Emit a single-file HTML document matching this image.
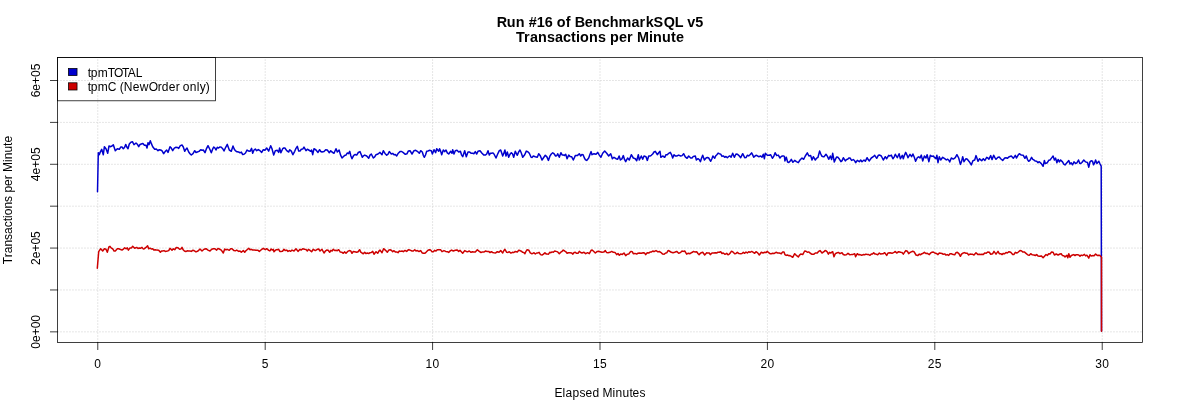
<!DOCTYPE html><html><head><meta charset="utf-8"><style>html,body{margin:0;padding:0;background:#fff;}svg{display:block;} .wc{will-change:transform;}text{font-family:"Liberation Sans",sans-serif;}</style></head><body>
<div class="wc">
<svg width="1200" height="400" viewBox="0 0 1200 400">
<rect width="1200" height="400" fill="#fff"/>
<path d="M97.78 342.4V57.6M265.19 342.4V57.6M432.59 342.4V57.6M600.00 342.4V57.6M767.41 342.4V57.6M934.81 342.4V57.6M1102.22 342.4V57.6M57.6 331.85H1142.4M57.6 289.96H1142.4M57.6 248.07H1142.4M57.6 206.18H1142.4M57.6 164.29H1142.4M57.6 122.40H1142.4M57.6 80.51H1142.4" fill="none" stroke="#d3d3d3" stroke-width="0.75" stroke-dasharray="0.75 2.25" stroke-linecap="round"/>
<path d="M97.5 191.7 L98.3 152.7 L99.3 154.7 L100.0 152.7 L101.7 149.3 L103.3 154.7 L104.4 146.7 L106.0 148.7 L107.7 153.3 L109.0 146.0 L110.7 146.7 L112.0 146.0 L113.3 144.7 L115.3 150.7 L117.3 148.7 L119.3 149.3 L120.7 147.1 L122.0 147.0 L123.3 148.7 L124.5 147.5 L125.7 144.4 L126.8 147.0 L128.0 148.7 L129.3 144.0 L130.9 142.2 L132.4 141.7 L134.0 144.7 L136.0 143.0 L137.3 144.2 L138.7 146.7 L140.0 144.5 L141.3 144.0 L142.9 143.4 L144.4 145.2 L146.0 145.3 L147.0 148.0 L148.0 142.7 L149.0 144.7 L150.3 140.7 L151.5 143.9 L152.7 146.7 L154.7 149.3 L156.3 149.0 L158.0 150.7 L159.3 149.7 L160.7 150.0 L162.1 150.9 L163.6 153.7 L165.1 151.6 L166.7 150.0 L168.0 152.4 L170.0 146.7 L171.3 148.1 L172.7 150.7 L174.3 148.1 L176.0 147.3 L177.3 147.4 L178.7 148.4 L180.3 145.6 L182.0 145.0 L183.3 147.0 L184.7 151.3 L185.8 149.4 L187.0 148.0 L188.7 152.0 L190.0 153.7 L191.3 155.0 L193.0 153.6 L194.7 150.7 L196.0 152.5 L197.3 152.0 L199.0 151.4 L200.7 149.7 L202.0 150.3 L203.3 150.0 L205.0 152.7 L206.5 148.6 L208.0 145.7 L209.7 149.0 L211.3 152.7 L212.5 149.4 L213.7 147.0 L214.8 147.9 L216.0 150.0 L217.3 147.3 L218.6 148.0 L220.0 146.9 L221.3 147.3 L222.7 148.7 L224.0 151.0 L225.7 147.3 L227.3 144.4 L229.3 150.0 L231.3 151.3 L233.0 146.0 L234.2 149.0 L235.3 150.7 L237.0 151.8 L238.7 152.0 L240.0 152.8 L241.3 152.1 L242.7 154.5 L244.0 154.3 L245.5 153.0 L247.0 150.0 L248.5 151.1 L250.0 151.3 L251.6 148.4 L252.7 153.3 L254.0 150.0 L255.3 149.1 L256.7 150.7 L258.3 149.6 L260.0 150.7 L261.7 152.4 L263.3 149.7 L264.9 150.3 L266.7 148.0 L268.7 151.1 L270.7 145.7 L272.0 148.7 L273.7 155.1 L275.3 150.7 L277.3 150.3 L278.7 152.4 L279.6 148.0 L280.9 152.7 L282.7 148.7 L283.8 148.0 L284.9 148.0 L286.7 150.7 L288.7 152.0 L289.7 149.7 L291.3 151.1 L292.9 154.7 L294.7 151.3 L296.0 148.3 L297.3 146.3 L298.7 151.1 L300.0 151.1 L301.3 149.3 L302.7 149.1 L304.0 147.1 L306.0 150.7 L307.3 149.2 L308.7 150.0 L310.7 151.3 L311.6 150.0 L312.7 154.7 L314.0 148.7 L316.0 150.0 L318.0 152.4 L319.6 149.7 L320.8 151.5 L322.0 152.0 L324.0 151.6 L325.7 149.8 L327.3 150.0 L329.3 152.7 L330.7 150.7 L332.0 152.0 L334.0 153.3 L336.0 148.7 L337.3 152.0 L339.1 150.0 L340.5 154.9 L342.0 158.0 L343.3 156.7 L344.7 155.4 L346.0 155.1 L347.2 153.0 L348.5 153.7 L349.7 151.3 L350.9 156.0 L352.0 158.7 L353.7 155.3 L355.2 154.5 L356.7 155.1 L358.3 152.5 L360.0 151.6 L361.1 154.2 L362.3 157.3 L363.5 155.8 L364.7 155.1 L366.7 156.0 L368.7 158.3 L370.0 155.1 L371.3 154.0 L373.3 158.0 L374.7 156.9 L376.0 154.7 L378.0 154.0 L380.0 152.4 L382.0 154.7 L383.3 150.7 L385.0 153.4 L386.7 155.3 L388.0 154.2 L389.3 151.6 L391.3 154.0 L392.7 153.4 L394.0 154.7 L395.3 154.5 L396.7 156.0 L398.3 153.2 L400.0 151.6 L401.7 151.5 L403.3 152.7 L405.3 154.3 L406.9 153.8 L408.4 150.9 L410.0 150.7 L412.0 154.0 L414.0 150.7 L415.7 150.3 L417.3 151.3 L419.3 153.3 L420.7 150.7 L422.3 152.0 L423.3 155.3 L424.4 157.3 L425.5 155.0 L426.7 151.3 L428.0 151.0 L429.3 150.3 L431.3 150.7 L432.4 154.0 L434.0 149.7 L435.6 152.7 L436.7 148.7 L438.7 151.3 L439.6 148.7 L440.7 151.4 L441.7 154.7 L443.3 150.0 L444.7 151.6 L446.0 150.0 L447.3 152.9 L448.7 154.0 L450.7 151.3 L452.0 153.3 L452.7 149.7 L454.0 154.0 L455.3 150.7 L457.0 150.2 L458.7 152.0 L460.4 151.3 L461.5 154.8 L462.7 156.7 L464.7 150.7 L466.3 156.7 L468.0 152.0 L469.7 152.1 L471.3 153.3 L472.7 153.2 L474.0 153.7 L475.3 151.6 L476.7 154.0 L478.0 151.3 L480.0 150.7 L482.0 153.3 L483.7 154.9 L485.3 155.1 L486.7 154.0 L488.0 150.7 L489.3 155.1 L490.5 153.2 L491.6 153.3 L492.8 152.9 L494.0 154.0 L496.0 158.0 L498.0 153.3 L499.3 150.6 L500.7 150.0 L502.7 156.0 L503.8 153.4 L504.9 150.0 L506.0 156.0 L507.3 152.0 L508.7 157.3 L510.0 154.3 L511.3 152.7 L512.5 153.8 L513.7 157.3 L515.3 151.3 L517.3 155.3 L518.7 151.9 L520.0 150.0 L521.3 153.0 L522.7 157.3 L524.7 154.7 L526.3 151.1 L527.8 151.7 L529.3 153.3 L531.1 157.3 L532.2 157.4 L533.3 156.0 L535.3 156.7 L537.3 157.3 L538.7 153.7 L540.3 155.7 L542.0 160.0 L543.7 157.5 L545.3 155.3 L546.9 156.9 L548.4 160.4 L549.9 156.2 L551.3 154.0 L552.7 152.8 L554.0 153.7 L555.6 156.0 L556.7 155.8 L557.7 153.7 L559.3 157.3 L560.9 152.7 L562.1 154.9 L563.3 155.1 L564.5 155.4 L565.7 154.3 L567.1 158.7 L568.7 155.1 L570.0 156.4 L571.6 156.7 L573.3 160.0 L575.3 155.6 L577.3 155.6 L579.3 153.7 L580.7 156.0 L581.9 154.6 L583.1 154.7 L584.4 158.0 L585.5 159.8 L586.7 160.4 L588.7 158.0 L589.9 154.5 L591.1 151.6 L592.0 154.7 L594.0 153.7 L596.0 154.3 L597.7 152.4 L599.3 155.1 L600.9 157.3 L602.7 153.3 L604.7 151.1 L606.7 153.3 L608.7 156.0 L610.7 153.7 L612.4 158.7 L614.0 157.3 L616.0 158.7 L617.7 159.3 L619.1 156.0 L620.4 160.0 L621.9 158.9 L623.3 155.6 L624.5 159.4 L625.7 161.7 L627.6 158.0 L629.3 160.0 L631.3 154.7 L633.3 158.0 L635.3 158.7 L636.7 160.7 L638.3 154.7 L639.3 160.0 L641.3 156.0 L642.7 159.3 L644.0 156.0 L646.0 156.7 L647.3 160.4 L648.7 156.0 L650.0 156.1 L651.3 155.3 L652.7 154.0 L654.0 152.0 L655.3 151.3 L657.3 154.7 L658.7 152.7 L660.0 151.3 L660.9 157.3 L662.7 156.0 L664.7 157.3 L666.0 154.7 L667.3 154.7 L668.7 153.3 L670.3 152.4 L671.5 154.6 L672.7 158.0 L674.0 154.7 L675.3 155.9 L676.7 156.0 L678.7 155.1 L680.7 156.0 L682.1 155.6 L683.6 153.7 L685.3 156.8 L687.1 158.3 L688.7 156.0 L690.7 158.0 L692.0 158.0 L693.3 156.4 L695.3 156.0 L696.4 160.0 L698.0 158.7 L699.2 159.5 L700.4 161.7 L701.5 158.3 L702.7 155.3 L704.4 160.0 L706.3 157.7 L707.5 157.4 L708.7 158.0 L710.7 161.3 L711.8 159.0 L712.9 156.0 L714.7 158.3 L715.8 155.7 L716.9 154.7 L718.1 153.1 L719.3 153.7 L720.7 154.1 L722.0 156.4 L723.3 155.9 L724.7 157.3 L726.0 156.5 L727.3 157.7 L729.3 156.0 L730.0 156.0 L731.1 157.3 L732.7 153.3 L734.3 157.3 L736.0 154.0 L737.3 154.2 L738.7 155.3 L740.7 157.7 L742.7 153.7 L744.7 157.7 L746.0 157.6 L747.3 155.3 L748.7 155.9 L750.0 154.7 L751.6 152.9 L752.7 154.9 L753.7 157.3 L754.9 156.1 L756.0 155.3 L757.3 155.8 L758.7 156.7 L760.7 156.0 L762.0 157.3 L763.3 154.3 L764.4 158.7 L765.3 153.3 L767.3 155.3 L769.3 155.3 L770.7 154.7 L772.4 158.3 L773.7 156.4 L775.1 152.7 L776.7 155.6 L778.3 155.1 L780.0 158.0 L781.1 156.6 L782.3 156.0 L783.3 155.9 L784.4 156.4 L784.9 160.9 L786.3 157.3 L787.6 162.0 L788.8 162.5 L790.0 161.3 L791.3 159.3 L792.9 162.3 L794.7 160.4 L796.4 161.7 L798.3 162.7 L800.0 160.0 L802.0 158.0 L803.6 159.3 L805.3 156.0 L807.3 152.9 L808.9 156.0 L810.7 155.6 L812.0 160.0 L813.3 156.7 L815.3 160.0 L816.7 158.1 L818.0 157.3 L819.6 151.1 L820.7 153.8 L821.7 156.0 L822.9 156.7 L824.0 156.7 L826.0 154.3 L827.3 156.1 L828.7 159.3 L830.3 156.0 L831.6 159.6 L832.7 153.3 L834.3 162.0 L835.5 159.1 L836.7 156.9 L837.9 157.3 L839.1 158.7 L840.9 161.7 L842.1 160.6 L843.3 157.7 L845.3 160.9 L846.5 159.5 L847.6 159.3 L848.8 158.1 L850.0 158.0 L851.6 160.4 L853.3 159.6 L854.5 160.5 L855.6 162.7 L857.3 160.4 L859.3 161.7 L860.7 160.0 L862.0 161.7 L864.0 160.0 L865.3 161.3 L867.1 157.7 L868.2 159.6 L869.3 160.9 L871.3 158.0 L873.3 156.7 L874.7 155.3 L876.7 158.3 L878.3 155.3 L879.8 155.1 L881.3 156.0 L883.3 160.0 L885.3 156.7 L886.7 158.7 L888.7 155.3 L890.0 156.0 L891.3 155.1 L892.9 158.7 L894.1 157.1 L895.3 154.3 L897.3 157.7 L899.1 153.7 L900.4 158.7 L902.3 155.3 L903.3 158.7 L904.5 155.1 L905.7 152.4 L906.9 154.8 L908.0 157.7 L910.0 154.3 L911.6 156.7 L912.9 154.0 L914.3 157.3 L915.6 161.3 L917.3 157.7 L918.7 156.8 L920.0 158.0 L921.3 155.1 L922.7 160.9 L924.4 156.0 L926.0 158.0 L927.1 154.7 L928.9 161.7 L930.3 155.3 L931.8 156.4 L933.3 156.0 L934.7 157.7 L936.0 158.7 L936.9 155.3 L938.0 162.7 L939.3 156.7 L940.7 160.0 L942.7 157.3 L944.7 158.7 L946.3 160.0 L947.5 159.2 L948.7 160.0 L949.7 162.0 L951.3 158.0 L953.3 159.1 L955.3 157.7 L956.9 154.7 L958.7 158.0 L960.4 164.4 L961.5 161.6 L962.7 156.7 L964.0 161.7 L966.0 158.7 L967.3 159.3 L969.3 161.7 L971.3 164.9 L972.9 160.7 L974.7 160.0 L976.0 155.6 L978.0 161.3 L979.6 158.7 L980.7 159.9 L981.7 160.7 L983.3 158.7 L984.9 160.4 L986.7 157.3 L987.8 158.0 L988.9 159.1 L990.7 155.6 L992.0 159.6 L993.7 155.3 L994.9 157.7 L996.0 159.3 L998.0 157.3 L999.3 157.1 L1000.7 158.7 L1002.7 160.4 L1004.7 158.0 L1006.0 157.8 L1007.3 158.3 L1009.3 156.7 L1011.3 156.0 L1013.3 158.3 L1015.3 155.3 L1016.4 158.0 L1018.0 155.3 L1019.3 153.7 L1021.3 155.1 L1023.3 155.3 L1024.9 158.3 L1026.3 156.0 L1027.5 159.6 L1028.7 161.3 L1030.1 160.2 L1031.6 157.3 L1032.8 159.4 L1034.0 160.0 L1035.3 161.1 L1036.7 161.3 L1038.0 162.7 L1039.3 161.7 L1041.3 163.6 L1043.1 166.3 L1044.4 160.4 L1045.3 163.6 L1047.3 162.7 L1048.7 160.3 L1050.0 160.0 L1051.5 158.1 L1053.1 156.0 L1054.4 160.0 L1055.6 158.1 L1056.9 162.8 L1058.1 159.4 L1059.4 161.9 L1060.6 160.0 L1062.5 161.9 L1063.8 164.2 L1065.0 165.0 L1066.9 162.8 L1068.8 160.6 L1070.0 164.0 L1071.2 162.8 L1072.5 164.8 L1074.0 161.9 L1075.6 163.5 L1076.9 162.8 L1078.5 160.0 L1079.8 163.5 L1080.8 163.4 L1081.9 162.5 L1083.8 160.0 L1085.6 161.9 L1087.5 162.5 L1088.8 167.2 L1090.0 161.9 L1091.2 160.7 L1092.5 161.2 L1093.5 164.8 L1094.6 163.0 L1095.6 160.0 L1096.9 163.5 L1098.8 161.2 L1100.0 163.8 L1101.2 166.2 L1101.5 331.0" fill="none" stroke="#0000cd" stroke-width="1.5" stroke-linejoin="round" stroke-linecap="round"/>
<path d="M97.3 268.3 L98.7 251.7 L100.7 248.7 L102.7 251.0 L104.4 248.7 L106.0 249.3 L107.3 252.3 L108.9 247.0 L110.0 246.3 L111.1 247.9 L112.9 249.0 L114.1 251.1 L115.3 251.0 L117.3 248.7 L118.7 248.7 L120.0 249.3 L122.0 250.1 L123.3 249.2 L124.7 247.7 L126.0 248.8 L127.3 247.9 L128.4 250.1 L130.0 247.9 L131.3 248.1 L132.7 246.3 L134.7 248.3 L136.7 247.4 L138.0 248.5 L139.3 247.9 L140.7 248.2 L142.0 247.4 L143.2 248.9 L144.4 248.7 L146.0 247.4 L147.6 245.7 L148.7 248.7 L150.0 248.1 L151.3 249.0 L152.7 248.8 L154.0 250.1 L155.3 249.7 L156.7 250.1 L158.7 250.3 L160.4 252.3 L161.5 251.0 L162.7 251.0 L164.0 250.6 L165.3 251.4 L167.3 251.0 L168.7 250.6 L170.0 248.3 L172.0 250.3 L173.3 248.8 L174.7 249.7 L176.3 247.5 L178.0 247.7 L179.6 249.3 L180.8 249.1 L182.0 247.4 L183.2 249.8 L184.4 251.0 L185.8 251.5 L187.2 250.8 L188.7 251.0 L190.0 251.0 L191.3 251.4 L192.7 250.3 L194.0 250.6 L196.0 251.9 L198.0 251.0 L200.0 249.0 L202.0 251.0 L204.0 249.3 L206.0 248.7 L208.0 250.1 L210.0 251.0 L211.7 249.3 L213.3 248.7 L215.0 248.8 L216.7 250.1 L218.0 248.4 L219.3 249.0 L221.3 250.1 L223.3 253.0 L224.7 249.0 L226.0 249.9 L227.3 249.3 L229.3 250.3 L230.7 248.8 L232.0 248.7 L234.0 250.6 L235.3 250.8 L236.7 250.1 L238.7 251.4 L240.0 251.0 L241.3 252.3 L243.3 250.6 L244.7 252.3 L245.9 250.8 L247.1 249.7 L248.7 248.3 L250.0 249.7 L251.3 249.3 L252.7 250.1 L254.3 249.9 L256.0 250.3 L257.7 250.2 L259.3 251.4 L261.3 249.7 L263.3 248.3 L265.3 249.7 L266.7 248.7 L268.7 250.3 L269.9 250.9 L271.1 249.0 L272.2 250.0 L273.3 249.3 L274.0 251.7 L276.0 249.7 L277.3 249.8 L278.7 249.3 L279.8 251.4 L280.9 251.4 L282.5 251.3 L284.0 249.3 L285.3 250.6 L286.7 250.1 L288.0 251.4 L289.3 250.6 L290.7 251.3 L292.0 250.1 L294.0 251.0 L296.0 248.7 L298.0 251.4 L300.0 249.3 L301.3 250.0 L302.7 248.7 L304.7 249.3 L306.0 249.6 L307.3 251.0 L308.5 249.4 L309.7 250.1 L311.6 251.7 L313.3 249.3 L315.3 250.6 L317.3 249.3 L318.7 249.0 L320.0 251.0 L322.0 249.3 L324.0 253.0 L325.3 251.2 L326.7 250.1 L328.2 250.2 L329.7 252.3 L330.9 250.4 L332.1 251.0 L333.3 249.3 L334.7 250.5 L336.0 250.3 L337.3 250.7 L338.7 249.7 L340.3 252.1 L342.0 252.3 L343.3 253.3 L344.7 251.9 L346.0 253.3 L347.7 251.4 L349.3 250.6 L350.7 250.9 L352.0 253.3 L353.3 251.4 L354.7 251.7 L356.7 252.3 L358.1 251.7 L359.6 249.7 L360.8 252.1 L362.0 253.0 L363.3 253.8 L364.7 252.3 L366.0 253.6 L367.3 253.0 L368.7 253.6 L370.0 252.7 L371.3 252.5 L372.7 251.4 L374.0 254.3 L376.0 251.7 L377.7 253.3 L378.9 251.1 L380.0 250.1 L382.0 252.7 L383.6 248.7 L385.3 250.1 L387.3 252.3 L388.7 250.1 L390.0 249.7 L391.3 250.3 L392.7 251.7 L394.0 250.7 L395.3 251.9 L396.7 251.9 L398.0 252.7 L399.3 251.0 L400.7 251.4 L402.0 251.0 L403.3 251.7 L405.0 250.4 L406.7 251.4 L408.3 249.8 L410.0 250.1 L412.0 251.0 L413.3 251.0 L414.7 249.7 L416.0 250.9 L417.3 250.6 L419.0 251.5 L420.7 250.6 L422.0 252.7 L423.3 253.3 L424.7 253.3 L426.0 252.3 L428.0 250.3 L429.3 249.8 L430.7 250.1 L432.0 251.7 L433.3 251.7 L434.7 250.3 L436.0 251.1 L437.3 249.7 L439.3 249.7 L440.7 249.8 L442.0 251.7 L444.0 250.6 L445.7 251.4 L447.3 251.7 L448.7 252.4 L450.0 251.0 L451.6 250.1 L453.3 251.0 L455.3 250.3 L457.0 249.9 L458.7 251.4 L460.0 250.4 L461.3 251.7 L462.7 253.3 L464.7 250.6 L466.7 251.7 L468.0 251.7 L469.3 251.0 L471.0 252.3 L472.7 251.7 L474.0 252.1 L475.3 251.9 L477.3 249.7 L479.3 251.4 L481.0 252.5 L482.7 251.9 L484.2 251.9 L485.7 251.0 L487.2 251.6 L488.7 251.4 L490.0 252.6 L491.3 251.7 L492.7 252.5 L494.0 252.7 L495.7 252.9 L497.3 251.7 L499.0 252.2 L500.7 250.6 L502.7 253.0 L503.8 250.7 L504.9 249.3 L506.7 252.3 L508.0 252.4 L509.3 251.7 L510.9 253.1 L512.4 252.3 L513.9 252.5 L515.3 251.4 L517.3 251.9 L518.7 250.3 L520.0 250.6 L521.3 251.2 L522.7 252.3 L523.8 252.4 L524.9 253.7 L526.0 251.3 L527.1 249.7 L528.9 250.3 L530.3 252.9 L531.6 253.7 L532.8 253.5 L534.0 252.7 L535.3 254.0 L536.7 253.0 L537.9 252.9 L539.1 252.3 L540.5 254.6 L542.0 255.0 L543.5 254.1 L544.9 252.7 L546.1 253.9 L547.3 254.1 L548.5 254.2 L549.7 252.3 L550.9 252.7 L552.1 251.9 L553.3 252.3 L554.7 251.0 L556.0 251.4 L557.7 251.9 L559.3 253.7 L560.5 252.4 L561.7 251.7 L563.2 250.1 L564.7 251.0 L565.9 251.8 L567.1 253.3 L568.5 252.8 L570.0 252.7 L571.5 252.9 L572.9 254.1 L574.1 252.4 L575.3 252.3 L576.7 253.3 L578.0 253.3 L579.3 251.4 L580.7 252.5 L582.0 253.0 L584.0 252.3 L585.7 253.7 L587.6 252.7 L589.3 253.7 L591.1 250.3 L592.2 250.1 L593.3 251.0 L595.3 253.0 L597.3 251.4 L598.7 251.3 L600.0 251.7 L602.0 252.3 L603.7 252.1 L605.3 250.6 L606.7 252.6 L608.0 252.7 L610.0 252.3 L611.7 251.4 L613.3 252.3 L615.0 252.4 L616.7 254.6 L618.0 253.5 L619.3 255.3 L620.7 254.1 L622.3 254.4 L624.0 253.0 L625.7 255.7 L627.2 254.2 L628.7 254.1 L629.9 252.3 L631.1 251.4 L632.2 251.7 L633.3 253.7 L635.0 253.4 L636.7 254.1 L638.0 253.2 L639.3 253.0 L641.3 253.3 L643.3 252.7 L644.5 253.0 L645.7 254.6 L647.2 252.7 L648.7 253.0 L650.1 252.1 L651.6 251.9 L652.8 251.0 L654.0 251.7 L656.0 250.6 L658.0 251.9 L659.3 251.5 L660.7 252.3 L662.7 254.1 L664.2 254.2 L665.7 253.0 L666.9 252.7 L668.1 250.5 L669.3 251.0 L671.3 252.3 L673.0 252.8 L674.7 252.3 L676.7 251.4 L678.7 253.3 L680.7 252.3 L682.0 251.1 L683.3 251.4 L684.7 251.0 L686.7 254.1 L688.3 253.2 L690.0 253.7 L691.2 252.8 L692.4 252.3 L693.5 251.4 L694.7 251.9 L696.7 251.7 L697.9 253.5 L699.1 254.6 L700.7 253.0 L702.7 252.3 L704.7 255.0 L706.7 252.7 L708.0 253.1 L709.3 253.0 L710.3 254.6 L712.0 253.0 L713.7 253.1 L715.3 252.7 L716.7 253.0 L718.0 252.2 L719.3 252.3 L720.7 251.7 L722.0 253.5 L723.3 253.0 L725.0 254.3 L726.7 253.3 L728.0 254.8 L729.3 254.1 L730.0 253.3 L731.3 251.3 L732.7 251.7 L734.7 253.7 L736.0 253.4 L737.3 252.3 L739.0 253.6 L740.7 253.7 L742.0 253.5 L743.3 252.3 L744.7 253.3 L746.0 252.0 L747.3 253.0 L748.7 251.7 L750.0 252.3 L751.7 251.4 L753.3 252.3 L754.7 253.3 L756.0 251.7 L757.7 252.9 L759.3 255.0 L761.3 252.3 L763.0 253.0 L764.7 252.3 L766.0 252.6 L767.3 251.4 L768.7 252.7 L770.0 253.7 L771.3 253.7 L772.7 253.3 L774.3 253.4 L776.0 252.3 L777.7 253.0 L779.3 253.0 L781.3 253.7 L782.7 251.9 L784.0 251.9 L784.9 254.6 L786.2 255.4 L787.4 255.0 L788.7 255.7 L790.0 255.6 L791.3 256.3 L792.7 257.3 L794.7 253.7 L796.7 255.7 L798.3 257.0 L799.5 255.1 L800.7 254.1 L802.7 254.6 L804.7 251.0 L806.0 251.2 L807.3 252.3 L808.7 251.9 L810.0 253.0 L812.0 254.3 L813.7 254.3 L815.3 253.0 L817.3 253.0 L818.7 251.3 L820.0 250.6 L822.0 253.0 L824.0 251.7 L825.1 250.5 L826.3 251.0 L827.3 252.1 L828.4 254.1 L829.5 252.4 L830.7 253.0 L832.7 251.7 L834.0 256.7 L835.3 253.7 L836.7 253.0 L838.3 252.4 L840.0 253.7 L842.0 252.7 L843.3 254.5 L844.7 255.0 L846.3 254.8 L848.0 253.3 L849.7 254.7 L851.3 254.6 L853.0 254.4 L854.7 253.7 L855.6 256.7 L857.3 253.7 L858.7 254.8 L860.0 254.6 L861.7 255.3 L863.3 254.6 L864.7 254.7 L866.0 254.1 L867.3 254.6 L868.7 254.6 L870.0 255.3 L871.3 254.1 L872.5 254.0 L873.7 252.7 L874.9 254.1 L876.0 254.1 L877.7 254.7 L879.3 253.0 L880.7 254.1 L882.0 253.7 L883.3 253.7 L884.7 252.7 L886.7 255.4 L888.0 253.0 L890.0 252.7 L892.0 253.3 L894.0 252.3 L895.3 251.5 L896.7 253.0 L898.7 251.7 L900.7 252.3 L902.0 252.6 L903.3 254.1 L904.7 252.1 L906.0 250.6 L907.3 251.2 L908.7 253.7 L910.0 252.5 L911.3 251.9 L912.7 251.3 L914.0 251.7 L916.0 255.0 L917.7 255.6 L919.3 254.1 L920.7 254.7 L922.0 253.7 L923.2 253.2 L924.4 252.3 L925.9 253.5 L927.3 253.3 L929.3 254.6 L930.7 252.9 L932.0 252.3 L933.3 252.0 L934.7 253.0 L936.3 253.4 L938.0 254.6 L939.3 253.1 L940.7 253.3 L942.0 253.5 L943.3 254.3 L944.7 253.9 L946.0 255.1 L947.3 254.6 L948.7 255.4 L950.0 253.7 L951.3 253.7 L953.3 254.6 L954.7 254.8 L956.0 252.7 L957.3 252.3 L958.9 253.6 L960.4 256.3 L961.5 254.2 L962.7 253.3 L964.3 252.6 L966.0 253.3 L967.3 253.2 L968.7 255.0 L970.0 254.1 L971.3 254.3 L972.7 254.3 L974.0 255.0 L976.0 252.7 L978.0 254.6 L979.3 254.3 L980.7 254.6 L982.0 254.3 L983.3 254.6 L984.7 252.9 L986.0 253.3 L987.7 252.0 L989.3 252.3 L990.7 254.3 L992.7 253.7 L994.0 251.4 L996.0 254.1 L998.0 251.4 L999.3 253.7 L1000.7 253.7 L1002.0 254.6 L1003.3 253.4 L1004.7 253.7 L1006.0 252.5 L1007.3 253.0 L1009.0 251.7 L1010.7 252.3 L1012.7 254.6 L1014.0 254.4 L1015.3 252.3 L1016.7 253.0 L1018.0 252.3 L1020.0 250.6 L1021.3 250.7 L1022.7 251.9 L1024.3 251.9 L1026.0 253.3 L1028.0 255.0 L1029.3 255.3 L1030.7 253.7 L1032.3 254.8 L1034.0 255.0 L1035.3 255.5 L1036.7 254.6 L1038.0 256.1 L1039.3 256.3 L1041.3 255.9 L1043.1 257.7 L1044.7 255.9 L1046.0 254.5 L1047.3 255.4 L1048.7 253.7 L1050.0 254.0 L1051.6 252.0 L1053.1 252.2 L1054.4 255.0 L1056.2 254.0 L1058.1 255.0 L1060.0 254.0 L1061.2 253.8 L1062.5 255.6 L1063.8 255.8 L1065.0 256.9 L1066.9 255.2 L1067.8 257.8 L1068.8 253.8 L1070.0 257.2 L1071.2 255.7 L1072.5 255.0 L1073.8 254.6 L1075.0 255.6 L1076.2 254.7 L1077.5 254.8 L1078.8 254.9 L1080.0 256.2 L1081.2 255.1 L1082.5 255.6 L1084.4 254.4 L1085.6 255.9 L1086.9 255.2 L1088.8 258.1 L1090.0 254.8 L1091.2 256.0 L1092.5 255.6 L1094.1 255.8 L1095.6 254.0 L1097.5 255.6 L1098.8 255.3 L1100.0 255.6 L1101.5 257.2 L1101.5 331.2" fill="none" stroke="#cd0000" stroke-width="1.5" stroke-linejoin="round" stroke-linecap="round"/>
<rect x="57.6" y="57.6" width="1084.8" height="284.8" fill="none" stroke="#000" stroke-width="0.75"/>
<path d="M97.78 342.4V349.6M265.19 342.4V349.6M432.59 342.4V349.6M600.00 342.4V349.6M767.41 342.4V349.6M934.81 342.4V349.6M1102.22 342.4V349.6M57.6 331.85H50.4M57.6 289.96H50.4M57.6 248.07H50.4M57.6 206.18H50.4M57.6 164.29H50.4M57.6 122.40H50.4M57.6 80.51H50.4" fill="none" stroke="#000" stroke-width="0.75" stroke-linecap="round"/>
<text transform="translate(97.78 368.30)" x="-3.50" y="0" font-size="12">0</text>
<text transform="translate(265.19 368.30)" x="-3.50" y="0" font-size="12">5</text>
<text transform="translate(432.59 368.30)" x="-7.00 0.00" y="0" font-size="12">10</text>
<text transform="translate(600.00 368.30)" x="-7.00 0.00" y="0" font-size="12">15</text>
<text transform="translate(767.41 368.30)" x="-7.00 0.00" y="0" font-size="12">20</text>
<text transform="translate(934.81 368.30)" x="-7.00 0.00" y="0" font-size="12">25</text>
<text transform="translate(1102.22 368.30)" x="-7.00 0.00" y="0" font-size="12">30</text>
<text transform="translate(40.32 331.85) rotate(-90)" x="-16.85 -10.18 -3.51 3.51 10.18" y="0" font-size="12">0e+00</text>
<text transform="translate(40.32 248.07) rotate(-90)" x="-16.85 -10.18 -3.51 3.51 10.18" y="0" font-size="12">2e+05</text>
<text transform="translate(40.32 164.29) rotate(-90)" x="-16.85 -10.18 -3.51 3.51 10.18" y="0" font-size="12">4e+05</text>
<text transform="translate(40.32 80.51) rotate(-90)" x="-16.85 -10.18 -3.51 3.51 10.18" y="0" font-size="12">6e+05</text>
<text transform="translate(600.00 397.12)" x="-45.50 -37.50 -34.50 -27.50 -20.50 -14.50 -7.50 -0.50 2.50 12.50 15.50 22.50 29.50 32.50 39.50" y="0" font-size="12">Elapsed Minutes</text>
<text transform="translate(11.52 200.00) rotate(-90)" x="-64.13 -57.25 -53.25 -46.57 -39.90 -33.90 -27.23 -21.23 -17.90 -15.23 -8.56 -1.89 4.11 7.44 14.11 20.79 24.79 28.11 38.11 40.79 47.46 54.13 57.46" y="0" font-size="12">Transactions per Minute</text>
<text transform="translate(600.00 26.80) scale(1 1.07)" x="-103.37 -93.37 -84.37 -75.37 -71.37 -63.37 -55.37 -47.37 -43.37 -34.37 -29.37 -25.37 -15.37 -7.37 1.63 9.63 18.63 31.63 39.63 45.63 53.63 63.63 74.63 83.37 87.37 95.37" y="0" font-size="14.4" font-weight="bold">Run #16 of BenchmarkSQL v5</text>
<text transform="translate(600.00 41.80) scale(1 1.07)" x="-84.10 -75.90 -69.90 -61.90 -52.90 -44.90 -36.90 -28.90 -23.90 -19.90 -10.90 -1.90 6.10 10.10 19.10 27.10 33.10 37.10 49.10 53.10 62.10 71.10 76.10" y="0" font-size="14.4" font-weight="bold">Transactions per Minute</text>
<rect x="57.6" y="57.6" width="158" height="43.2" fill="none" stroke="#000" stroke-width="0.75"/>
<rect x="68.4" y="68.4" width="8.64" height="7.2" fill="#0000cd" stroke="#000" stroke-width="0.75"/>
<rect x="68.4" y="82.8" width="8.64" height="7.2" fill="#cd0000" stroke="#000" stroke-width="0.75"/>
<text transform="translate(87.84 77.00)" x="0.00 3.00 10.00 20.00 26.08 34.08 39.99 47.99" y="0" font-size="12">tpmTOTAL</text>
<text transform="translate(87.84 91.00)" x="0.00 3.00 10.00 20.00 29.00 32.00 36.00 45.00 52.00 61.00 70.00 74.00 81.00 88.00 92.00 95.00 102.00 109.00 112.00 118.00" y="0" font-size="12">tpmC (NewOrder only)</text>
</svg></div></body></html>
